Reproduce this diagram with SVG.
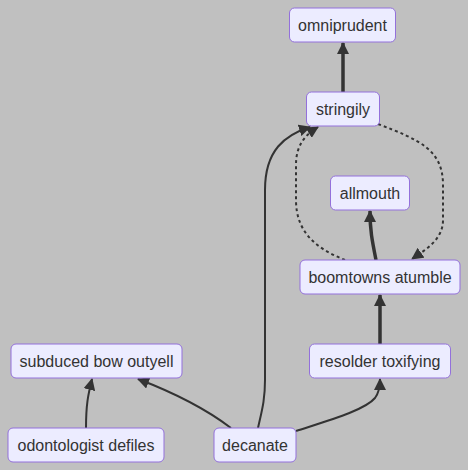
<svg xmlns="http://www.w3.org/2000/svg" width="468" height="470" viewBox="0 0 468 470">
<defs>
<marker id="arr" viewBox="0 0 12 12" refX="11" refY="6" markerWidth="12" markerHeight="12" markerUnits="userSpaceOnUse" orient="auto">
<path d="M0,0 L12,6 L0,12 z" fill="#333"/>
</marker>
</defs>
<style>
.node rect{fill:#ECECFF;stroke:#9370DB;stroke-width:1}
.node text{font-family:"Liberation Sans",Arial,sans-serif;font-size:16px;fill:#333;text-anchor:middle;dominant-baseline:central}
.e{fill:none;stroke:#333;stroke-width:2;marker-end:url(#arr)}
.thick{stroke-width:3.5}
.dot{stroke-dasharray:3 3}
</style>
<rect width="468" height="470" fill="#c0c0c0"/>
<g id="edges">
<path class="e thick" d="M343,92 L343,43"/>
<path class="e thick" d="M376,260 C372,240 370,230 370,211"/>
<path class="e thick" d="M380,344 L380,295"/>
<path class="e dot" d="M345,260 C320,250 296,235 296,200 L296,165 C296,145 305,135 318,127"/>
<path class="e dot" d="M378,124 C420,140 443,150 443,185 L443,220 C443,240 425,250 412,259"/>
<path class="e" d="M258,428 C262,410 265,400 265,380 L265,190 C265,150 285,135 310,127"/>
<path class="e" d="M231,428 C210,412 180,395 138,379"/>
<path class="e" d="M86,428 C86,405 88,395 92,379"/>
<path class="e" d="M296,431 C330,420 365,410 375,398 C378,394 380,388 380,379"/>
</g>
<g id="omniprudent" class="node"><rect x="289.5" y="8" width="106" height="34" rx="5"/><text x="342.5" y="25">omniprudent</text></g>
<g id="stringily" class="node"><rect x="306.5" y="92" width="73" height="34" rx="5"/><text x="343" y="109">stringily</text></g>
<g id="allmouth" class="node"><rect x="330.5" y="176" width="79" height="34" rx="5"/><text x="370" y="193">allmouth</text></g>
<g id="boomtowns" class="node"><rect x="300" y="260" width="160" height="34" rx="5"/><text x="380" y="277">boomtowns atumble</text></g>
<g id="subduced" class="node"><rect x="11" y="344" width="171" height="34" rx="5"/><text x="96.5" y="361">subduced bow outyell</text></g>
<g id="resolder" class="node"><rect x="309.5" y="344" width="141" height="34" rx="5"/><text x="380" y="361">resolder toxifying</text></g>
<g id="odontologist" class="node"><rect x="8" y="428" width="156" height="34" rx="5"/><text x="86" y="445">odontologist defiles</text></g>
<g id="decanate" class="node"><rect x="214" y="428" width="82" height="34" rx="5"/><text x="255" y="445">decanate</text></g>
</svg>
